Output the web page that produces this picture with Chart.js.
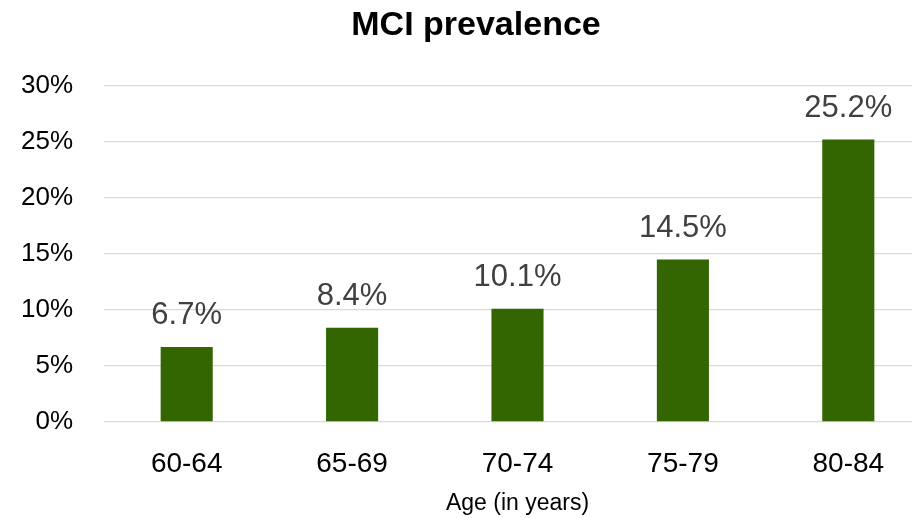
<!DOCTYPE html>
<html>
<head>
<meta charset="utf-8">
<title>MCI prevalence</title>
<script src="https://cdn.jsdelivr.net/npm/chart.js@4/dist/chart.umd.min.js"></script>
<style>
  html, body { margin: 0; padding: 0; background: #ffffff; overflow: hidden; }
  #wrap { width: 962px; height: 518px; }
</style>
</head>
<body>
<div id="wrap"><canvas id="chart" width="962" height="518"></canvas></div>
<script>
// Age groups and the share of people with mild cognitive impairment (percent)
const ageGroups = ['60-64', '65-69', '70-74', '75-79', '80-84'];
const prevalence = [6.7, 8.4, 10.1, 14.5, 25.2];
const yTicks = [0, 5, 10, 15, 20, 25, 30];

const FONT = '"Liberation Sans", Arial, sans-serif';

// Writes each bar's value just above the bar
const valueLabels = {
  id: 'valueLabels',
  afterDatasetsDraw(chart) {
    const ctx = chart.ctx;
    const meta = chart.getDatasetMeta(0);
    ctx.save();
    ctx.font = '31px ' + FONT;
    ctx.fillStyle = '#404040';
    ctx.textAlign = 'center';
    ctx.textBaseline = 'alphabetic';
    meta.data.forEach((bar, i) => {
      ctx.fillText(prevalence[i].toFixed(1) + '%', bar.x, bar.y - 23);
    });
    ctx.restore();
  }
};

new Chart(document.getElementById('chart'), {
  type: 'bar',
  data: {
    labels: ageGroups,
    datasets: [{
      data: prevalence,
      backgroundColor: '#336600',
      borderWidth: 0,
      categoryPercentage: 1,
      barPercentage: 0.315
    }]
  },
  options: {
    responsive: false,
    animation: false,
    layout: { padding: { left: 21, right: 31, top: 0, bottom: 1 } },
    plugins: {
      legend: { display: false },
      tooltip: { enabled: false },
      title: {
        display: true,
        text: 'MCI prevalence',
        color: '#000000',
        font: { family: FONT, size: 34, weight: 'bold', lineHeight: 1.2 },
        padding: { top: 5, bottom: 40 }
      }
    },
    scales: {
      x: {
        grid: { display: false, drawTicks: false },
        border: { display: false },
        afterFit(scale) { scale.height = 95; },
        ticks: {
          color: '#000000',
          font: { family: FONT, size: 28, lineHeight: 1.2 },
          padding: 25,
          maxRotation: 0
        },
        title: {
          display: true,
          text: 'Age (in years)',
          color: '#000000',
          font: { family: FONT, size: 23, lineHeight: 1.2 },
          padding: { top: 0, bottom: 0 }
        }
      },
      y: {
        min: 0,
        max: 30,
        afterBuildTicks(scale) {
          scale.ticks = yTicks.map(v => ({ value: v }));
        },
        afterFit(scale) { scale.width = 83; },
        grid: { color: '#d9d9d9', lineWidth: 1.3, drawTicks: false },
        border: { display: false },
        ticks: {
          color: '#000000',
          font: { family: FONT, size: 26, lineHeight: 1.2 },
          padding: 31,
          callback: v => v + '%'
        }
      }
    }
  },
  plugins: [valueLabels]
});
</script>
</body>
</html>
